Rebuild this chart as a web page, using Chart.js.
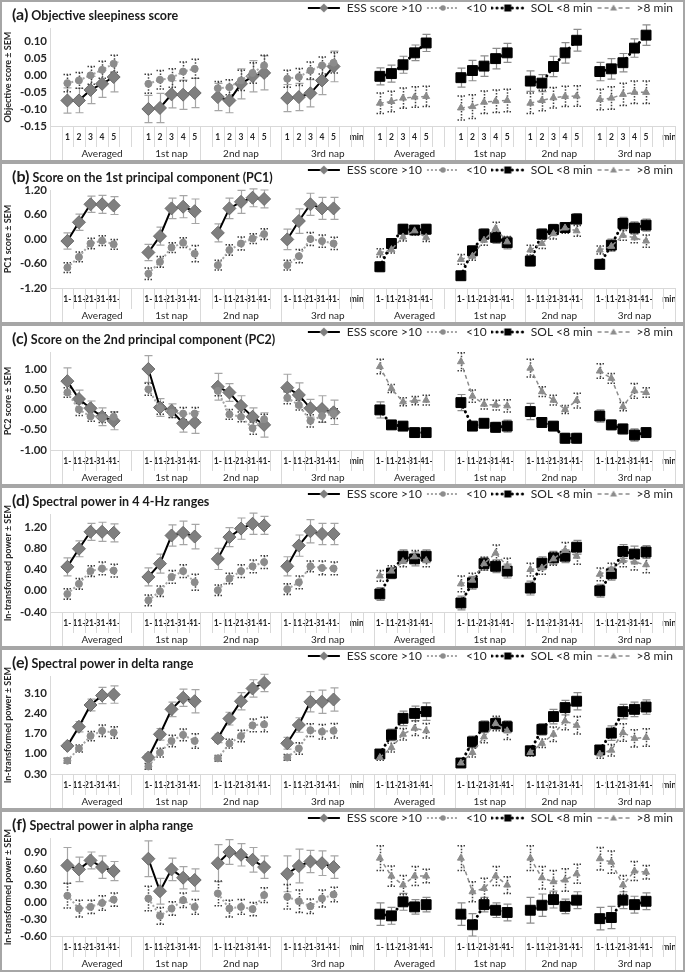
<!DOCTYPE html>
<html>
<head>
<meta charset="utf-8">
<script src="https://cdn.jsdelivr.net/npm/chart.js@4.4.1/dist/chart.umd.min.js"></script>
<style>
  html, body { margin: 0; padding: 0; background: #fff; }
  body { width: 685px; height: 972px; overflow: hidden; font-family: Lato, sans-serif; }
  .panel { position: relative; width: 681px; height: 158px; border: 2px solid #a6a6a6; }
  .panel canvas { position: absolute; left: 0; top: 0; }
  .ttl { position: absolute; left: 10px; top: 4px; font-weight: bold; font-size: 12.5px; line-height: 16px; color: #1a1a1a; white-space: nowrap; }
  .ttl .tag { font-size: 16px; }
</style>
</head>
<body>
<div id="wrap"></div>
<script>
// x axis: left half = ESS groups, right half = SOL groups (same layout)
const halfTicksNum = ['', '1', '2', '3', '4', '5', '', '', '1', '2', '3', '4', '5', '', '1', '2', '3', '4', '5', '', '1', '2', '3', '4', '5', '', 'min'];
const halfTicksMin = ['', '1-', '11-', '21-', '31-', '41-', '', '', '1-', '11-', '21-', '31-', '41-', '', '1-', '11-', '21-', '31-', '41-', '', '1-', '11-', '21-', '31-', '41-', '', 'min'];
const groupNames = ['Averaged', '1st nap', '2nd nap', '3rd nap', 'Averaged', '1st nap', '2nd nap', '3rd nap'];
const groupFirst = [1, 8, 13, 20, 28, 35, 41, 47];
const groupLast = [7, 12, 19, 27, 34, 40, 46, 53];
const seriesNames = ['ESS score >10', '<10', 'SOL <8 min', '>8 min'];

// (a) objective sleepiness score
const aTicks = [-0.15, -0.10, -0.05, 0, 0.05, 0.10];
const aEssHigh = [-0.075, -0.075, -0.044, -0.026, -0.006, -0.100, -0.097, -0.057, -0.058, -0.053, -0.065, -0.075, -0.026, -0.004, 0.006, -0.068, -0.065, -0.054, -0.016, 0.025];
const aEssLow = [-0.024, -0.016, -0.001, 0.015, 0.033, -0.026, -0.014, -0.009, 0.010, 0.018, -0.039, -0.036, -0.016, 0.006, 0.028, -0.011, -0.006, 0.013, 0.028, 0.036];
const aSolShort = [-0.004, 0.004, 0.030, 0.065, 0.094, -0.008, 0.013, 0.026, 0.048, 0.065, -0.018, -0.024, 0.025, 0.065, 0.102, 0.010, 0.018, 0.036, 0.079, 0.117];
const aSolLong = [-0.083, -0.078, -0.068, -0.065, -0.063, -0.097, -0.093, -0.080, -0.077, -0.075, -0.083, -0.075, -0.067, -0.063, -0.062, -0.072, -0.068, -0.057, -0.051, -0.051];
const aEssHighSem = [0.037, 0.036, 0.04, 0.04, 0.044, 0.04, 0.043, 0.04, 0.043, 0.043, 0.04, 0.036, 0.044, 0.046, 0.05, 0.04, 0.04, 0.04, 0.042, 0.045];
const aEssLowSem = [0.025, 0.023, 0.026, 0.025, 0.025, 0.028, 0.027, 0.027, 0.028, 0.028, 0.02, 0.022, 0.03, 0.03, 0.03, 0.025, 0.025, 0.025, 0.025, 0.03];
const aSolShortSem = [0.025, 0.025, 0.025, 0.023, 0.025, 0.028, 0.03, 0.03, 0.03, 0.028, 0.03, 0.025, 0.03, 0.03, 0.032, 0.027, 0.03, 0.027, 0.027, 0.03];
const aSolLongSem = [0.03, 0.03, 0.03, 0.03, 0.03, 0.035, 0.035, 0.033, 0.033, 0.033, 0.03, 0.03, 0.03, 0.03, 0.03, 0.03, 0.033, 0.033, 0.033, 0.033];

// (b) PC1
const bTicks = [-1.2, -0.6, 0, 0.6, 1.2];
const bEssHigh = [-0.05, 0.41, 0.85, 0.85, 0.82, -0.33, 0.07, 0.75, 0.79, 0.68, 0.15, 0.75, 0.91, 1.01, 0.98, -0.01, 0.44, 0.85, 0.75, 0.75];
const bEssLow = [-0.70, -0.44, -0.11, -0.04, -0.13, -0.85, -0.56, -0.21, -0.09, -0.36, -0.64, -0.27, -0.11, 0.01, 0.12, -0.64, -0.42, 0.00, -0.05, -0.11];
const bSolShort = [-0.68, -0.11, 0.24, 0.22, 0.24, -0.90, -0.29, 0.12, 0.04, -0.09, -0.54, 0.12, 0.23, 0.28, 0.49, -0.62, -0.15, 0.38, 0.27, 0.34];
const bSolLong = [-0.34, -0.26, 0.05, 0.20, 0.04, -0.50, -0.42, -0.03, 0.26, -0.07, -0.27, -0.11, 0.13, 0.27, 0.20, -0.27, -0.18, 0.09, 0.03, -0.05];
const bEssHighSem = [0.2, 0.2, 0.2, 0.22, 0.22, 0.2, 0.22, 0.25, 0.27, 0.3, 0.22, 0.25, 0.28, 0.22, 0.22, 0.25, 0.3, 0.27, 0.27, 0.27];
const bEssLowSem = [0.12, 0.12, 0.13, 0.12, 0.12, 0.14, 0.13, 0.12, 0.12, 0.2, 0.12, 0.13, 0.16, 0.12, 0.13, 0.12, 0.16, 0.16, 0.15, 0.15];
const bSolShortSem = [0.12, 0.1, 0.12, 0.1, 0.12, 0.1, 0.12, 0.13, 0.15, 0.15, 0.12, 0.13, 0.13, 0.12, 0.13, 0.12, 0.15, 0.15, 0.15, 0.15];
const bSolLongSem = [0.1, 0.08, 0.1, 0.1, 0.1, 0.12, 0.1, 0.12, 0.15, 0.13, 0.12, 0.12, 0.13, 0.13, 0.13, 0.1, 0.1, 0.12, 0.12, 0.15];

// (c) PC2
const cTicks = [-1, -0.5, 0, 0.5, 1];
const cEssHigh = [0.70, 0.26, 0.03, -0.18, -0.28, 1.00, 0.05, -0.03, -0.34, -0.32, 0.56, 0.42, 0.09, -0.18, -0.38, 0.54, 0.36, 0.03, 0.01, -0.07];
const cEssLow = [0.42, 0.00, -0.17, -0.20, -0.18, 0.50, 0.03, -0.08, -0.10, -0.10, 0.46, -0.12, -0.18, -0.46, -0.24, 0.29, 0.11, -0.28, -0.16, -0.10];
const cSolShort = [-0.01, -0.38, -0.41, -0.57, -0.57, 0.17, -0.41, -0.34, -0.44, -0.41, -0.05, -0.32, -0.41, -0.71, -0.71, -0.16, -0.38, -0.48, -0.63, -0.57];
const cSolLong = [1.06, 0.52, 0.19, 0.22, 0.23, 1.18, 0.33, 0.13, 0.11, 0.09, 1.02, 0.44, 0.23, 0.00, 0.22, 0.95, 0.77, 0.07, 0.46, 0.42];
const cEssHighSem = [0.33, 0.22, 0.18, 0.22, 0.22, 0.33, 0.22, 0.17, 0.22, 0.27, 0.33, 0.22, 0.25, 0.22, 0.3, 0.33, 0.3, 0.22, 0.33, 0.3];
const cEssLowSem = [0.12, 0.15, 0.12, 0.12, 0.12, 0.15, 0.15, 0.12, 0.15, 0.15, 0.12, 0.12, 0.12, 0.15, 0.12, 0.15, 0.12, 0.15, 0.15, 0.12];
const cSolShortSem = [0.2, 0.1, 0.1, 0.1, 0.1, 0.2, 0.1, 0.1, 0.12, 0.15, 0.2, 0.12, 0.1, 0.12, 0.12, 0.15, 0.12, 0.12, 0.15, 0.12];
const cSolLongSem = [0.18, 0.1, 0.1, 0.1, 0.12, 0.22, 0.15, 0.12, 0.12, 0.15, 0.22, 0.12, 0.12, 0.1, 0.18, 0.18, 0.12, 0.1, 0.18, 0.12];

// (d) 4 4-Hz ranges
const dTicks = [-0.4, 0, 0.4, 0.8, 1.2];
const dEssHigh = [0.45, 0.79, 1.11, 1.11, 1.09, 0.26, 0.51, 1.04, 1.09, 1.02, 0.60, 1.01, 1.17, 1.26, 1.23, 0.46, 0.85, 1.12, 1.07, 1.07];
const dEssLow = [-0.06, 0.13, 0.37, 0.42, 0.38, -0.18, -0.01, 0.26, 0.37, 0.16, 0.01, 0.23, 0.37, 0.46, 0.54, 0.03, 0.16, 0.46, 0.43, 0.42];
const dSolShort = [-0.06, 0.33, 0.65, 0.60, 0.65, -0.23, 0.15, 0.51, 0.46, 0.37, 0.05, 0.52, 0.62, 0.65, 0.82, 0.00, 0.32, 0.74, 0.69, 0.73];
const dSolLong = [0.28, 0.37, 0.55, 0.64, 0.57, 0.13, 0.20, 0.51, 0.71, 0.46, 0.40, 0.43, 0.60, 0.76, 0.65, 0.31, 0.40, 0.57, 0.54, 0.49];
const dEssHighSem = [0.17, 0.15, 0.16, 0.18, 0.17, 0.17, 0.18, 0.2, 0.22, 0.23, 0.2, 0.18, 0.2, 0.2, 0.17, 0.18, 0.2, 0.22, 0.2, 0.2];
const dEssLowSem = [0.1, 0.1, 0.1, 0.12, 0.12, 0.1, 0.1, 0.12, 0.12, 0.15, 0.1, 0.1, 0.12, 0.12, 0.12, 0.1, 0.12, 0.1, 0.13, 0.12];
const dSolShortSem = [0.12, 0.1, 0.12, 0.13, 0.12, 0.13, 0.12, 0.12, 0.12, 0.13, 0.13, 0.12, 0.12, 0.12, 0.13, 0.12, 0.12, 0.13, 0.15, 0.12];
const dSolLongSem = [0.1, 0.1, 0.1, 0.12, 0.12, 0.15, 0.13, 0.12, 0.15, 0.15, 0.12, 0.12, 0.12, 0.15, 0.15, 0.12, 0.12, 0.12, 0.15, 0.15];

// (e) delta range
const eTicks = [0.3, 1.0, 1.7, 2.4, 3.1];
const eEssHigh = [1.27, 1.93, 2.68, 3.01, 3.04, 0.87, 1.67, 2.53, 2.93, 2.81, 1.53, 2.21, 2.81, 3.25, 3.44, 1.36, 1.99, 2.79, 2.79, 2.87];
const eEssLow = [0.76, 1.18, 1.61, 1.79, 1.73, 0.56, 1.04, 1.44, 1.65, 1.44, 0.84, 1.35, 1.61, 1.98, 2.01, 0.87, 1.18, 1.81, 1.76, 1.79];
const eSolShort = [0.99, 1.65, 2.22, 2.39, 2.45, 0.68, 1.41, 1.93, 2.04, 1.93, 1.10, 1.84, 2.28, 2.59, 2.81, 1.13, 1.71, 2.45, 2.53, 2.61];
const eSolLong = [0.87, 1.21, 1.67, 1.88, 1.79, 0.68, 1.04, 1.58, 2.04, 1.79, 1.04, 1.36, 1.67, 2.13, 1.98, 0.99, 1.12, 1.73, 1.53, 1.56];
const eEssHighSem = [0.1, 0.18, 0.2, 0.28, 0.3, 0.12, 0.2, 0.25, 0.3, 0.4, 0.15, 0.22, 0.3, 0.3, 0.3, 0.2, 0.25, 0.35, 0.4, 0.4];
const eEssLowSem = [0.08, 0.12, 0.16, 0.2, 0.2, 0.1, 0.15, 0.2, 0.2, 0.25, 0.1, 0.15, 0.2, 0.22, 0.25, 0.1, 0.2, 0.22, 0.25, 0.25];
const eSolShortSem = [0.15, 0.2, 0.25, 0.25, 0.3, 0.1, 0.2, 0.2, 0.2, 0.2, 0.15, 0.2, 0.25, 0.25, 0.3, 0.15, 0.25, 0.25, 0.25, 0.25];
const eSolLongSem = [0.1, 0.15, 0.2, 0.25, 0.25, 0.1, 0.15, 0.2, 0.25, 0.3, 0.12, 0.15, 0.25, 0.3, 0.3, 0.15, 0.2, 0.3, 0.3, 0.3];

// (f) alpha range
const fTicks = [-0.6, -0.3, 0, 0.3, 0.6, 0.9];
const fEssHigh = [0.66, 0.59, 0.75, 0.63, 0.56, 0.78, 0.20, 0.59, 0.44, 0.40, 0.70, 0.90, 0.85, 0.76, 0.63, 0.51, 0.65, 0.73, 0.70, 0.63];
const fEssLow = [0.12, -0.11, -0.08, -0.01, 0.05, 0.07, -0.24, -0.11, 0.04, -0.08, 0.16, -0.11, -0.08, -0.12, 0.13, 0.10, 0.02, -0.07, 0.07, 0.14];
const fSolShort = [-0.21, -0.24, 0.01, -0.08, -0.04, -0.21, -0.40, -0.04, -0.14, -0.18, -0.14, -0.05, 0.05, -0.07, 0.04, -0.29, -0.27, 0.04, -0.04, 0.02];
const fSolLong = [0.79, 0.47, 0.31, 0.47, 0.47, 0.79, 0.19, 0.25, 0.47, 0.31, 0.79, 0.44, 0.37, 0.40, 0.51, 0.78, 0.72, 0.31, 0.56, 0.54];
const fEssHighSem = [0.32, 0.22, 0.15, 0.2, 0.17, 0.32, 0.23, 0.2, 0.2, 0.2, 0.33, 0.22, 0.2, 0.22, 0.2, 0.32, 0.3, 0.2, 0.22, 0.2];
const fEssLowSem = [0.22, 0.15, 0.12, 0.13, 0.12, 0.22, 0.15, 0.12, 0.13, 0.13, 0.22, 0.15, 0.13, 0.12, 0.13, 0.22, 0.2, 0.13, 0.15, 0.13];
const fSolShortSem = [0.2, 0.15, 0.15, 0.13, 0.13, 0.2, 0.2, 0.13, 0.13, 0.15, 0.23, 0.2, 0.15, 0.13, 0.15, 0.2, 0.2, 0.15, 0.15, 0.15];
const fSolLongSem = [0.22, 0.18, 0.17, 0.17, 0.12, 0.22, 0.18, 0.18, 0.17, 0.15, 0.22, 0.2, 0.2, 0.2, 0.17, 0.2, 0.2, 0.17, 0.17, 0.12];

const panels = [
  { id: 'a', title: 'Objective sleepiness score', yTitle: 'Objective score ± SEM', min: -0.15, max: 0.138, ticks: aTicks, xTicks: halfTicksNum,
    series: [aEssHigh, aEssLow, aSolShort, aSolLong], sems: [aEssHighSem, aEssLowSem, aSolShortSem, aSolLongSem] },
  { id: 'b', title: 'Score on the 1st principal component (PC1)', yTitle: 'PC1 score ± SEM', min: -1.2, max: 1.2, ticks: bTicks, xTicks: halfTicksMin,
    series: [bEssHigh, bEssLow, bSolShort, bSolLong], sems: [bEssHighSem, bEssLowSem, bSolShortSem, bSolLongSem] },
  { id: 'c', title: 'Score on the 2nd principal component (PC2)', yTitle: 'PC2 score ± SEM', min: -1, max: 1.42, ticks: cTicks, xTicks: halfTicksMin,
    series: [cEssHigh, cEssLow, cSolShort, cSolLong], sems: [cEssHighSem, cEssLowSem, cSolShortSem, cSolLongSem] },
  { id: 'd', title: 'Spectral power in 4 4-Hz ranges', yTitle: 'ln-transformed power ± SEM', min: -0.4, max: 1.445, ticks: dTicks, xTicks: halfTicksMin,
    series: [dEssHigh, dEssLow, dSolShort, dSolLong], sems: [dEssHighSem, dEssLowSem, dSolShortSem, dSolLongSem] },
  { id: 'e', title: 'Spectral power in delta range', yTitle: 'ln-transformed power ± SEM', min: 0.3, max: 3.68, ticks: eTicks, xTicks: halfTicksMin,
    series: [eEssHigh, eEssLow, eSolShort, eSolLong], sems: [eEssHighSem, eEssLowSem, eSolShortSem, eSolLongSem] },
  { id: 'f', title: 'Spectral power in alpha range', yTitle: 'ln-transformed power ± SEM', min: -0.6, max: 1.15, ticks: fTicks, xTicks: halfTicksMin,
    series: [fEssHigh, fEssLow, fSolShort, fSolLong], sems: [fEssHighSem, fEssLowSem, fSolShortSem, fSolLongSem] },
];

// line / marker / error bar look of the 4 series
const lineStyles = [
  { color: '#000000', width: 2, dash: [], cap: 'butt' },
  { color: '#a6a6a6', width: 2, dash: [2, 2], cap: 'butt' },
  { color: '#000000', width: 3, dash: [0.1, 5], cap: 'round' },
  { color: '#8c8c8c', width: 1.5, dash: [4, 3], cap: 'butt' },
];
const markerStyles = [
  { style: 'rectRot', radius: 6.5, fill: '#7f7f7f', edge: '#6a6a6a' },
  { style: 'circle', radius: 3.5, fill: '#8c8c8c', edge: '#8c8c8c' },
  { style: 'rect', radius: 7, fill: '#000000', edge: '#000000' },
  { style: 'triangle', radius: 4, fill: '#8c8c8c', edge: '#8c8c8c' },
];
const errStyles = [
  { color: '#a6a6a6', width: 1.2, dash: [] },
  { color: '#404040', width: 1.5, dash: [1.5, 1.5] },
  { color: '#8c8c8c', width: 1.2, dash: [] },
  { color: '#404040', width: 1.5, dash: [1.5, 1.5] },
];

// slots in a half of the axis that carry a point (labels 1..5 / 1-..41-)
const slots = [];
halfTicksNum.forEach((l, i) => { if (l && l !== 'min') slots.push(i); });
const HALF = halfTicksNum.length;

function spread(values, offset) {
  const out = new Array(HALF * 2).fill(null);
  slots.forEach((s, j) => { out[s + offset] = values[j]; });
  return out;
}

const ICON_W = 34;
function legendIcon(k) {
  const c = document.createElement('canvas');
  c.width = ICON_W; c.height = 12;
  const g = c.getContext('2d');
  const st = lineStyles[k], mid = ICON_W / 2;
  g.strokeStyle = st.color; g.lineWidth = st.width; g.lineCap = st.cap; g.setLineDash(st.dash);
  g.beginPath(); g.moveTo(1, 6); g.lineTo(ICON_W - 1, 6); g.stroke();
  g.setLineDash([]);
  g.fillStyle = markerStyles[k].fill;
  g.beginPath();
  const m = markerStyles[k].style;
  if (m === 'rectRot') { g.moveTo(mid, 1.5); g.lineTo(mid + 4.5, 6); g.lineTo(mid, 10.5); g.lineTo(mid - 4.5, 6); }
  else if (m === 'circle') { g.arc(mid, 6, 2.8, 0, 2 * Math.PI); }
  else if (m === 'rect') { g.rect(mid - 3.5, 2.5, 7, 7); }
  else { g.moveTo(mid, 2.5); g.lineTo(mid + 3.5, 8.5); g.lineTo(mid - 3.5, 8.5); }
  g.closePath(); g.fill();
  return c;
}
const legendIcons = [0, 1, 2, 3].map(legendIcon);

// error bars behind the markers
const errorBars = {
  id: 'errorBars',
  beforeDatasetsDraw(chart) {
    const ctx = chart.ctx, yScale = chart.scales.y;
    chart.data.datasets.forEach((ds, i) => {
      const meta = chart.getDatasetMeta(i), st = errStyles[i];
      ctx.save();
      ctx.strokeStyle = st.color; ctx.lineWidth = st.width; ctx.setLineDash(st.dash);
      ctx.beginPath();
      meta.data.forEach((pt, j) => {
        const v = ds.data[j];
        if (v === null) return;
        const x = Math.round(pt.x) + 0.5;
        const yTop = yScale.getPixelForValue(v + ds.sem[j]);
        const yBot = yScale.getPixelForValue(v - ds.sem[j]);
        ctx.moveTo(x, yTop); ctx.lineTo(x, yBot);
        ctx.moveTo(x - 4, yTop); ctx.lineTo(x + 4, yTop);
        ctx.moveTo(x - 4, yBot); ctx.lineTo(x + 4, yBot);
      });
      ctx.stroke();
      ctx.restore();
    });
  }
};

// multi-level category axis: cell lines and group names
const catAxis = {
  id: 'catAxis',
  afterDraw(chart) {
    const ctx = chart.ctx, xs = chart.scales.x, a = chart.chartArea, H = chart.height;
    const w = xs.getPixelForValue(1) - xs.getPixelForValue(0);
    const edge = k => Math.round(xs.getPixelForValue(k) - w / 2) + 0.5;
    ctx.save();
    ctx.strokeStyle = '#d9d9d9'; ctx.lineWidth = 1;
    ctx.beginPath();
    for (let k = 0; k <= HALF * 2; k++) {
      ctx.moveTo(edge(k), a.bottom); ctx.lineTo(edge(k), a.bottom + 21);
    }
    groupFirst.forEach((g, n) => {
      ctx.moveTo(edge(g), a.bottom); ctx.lineTo(edge(g), H);
      ctx.moveTo(edge(groupLast[n] + 1), a.bottom); ctx.lineTo(edge(groupLast[n] + 1), H);
    });
    ctx.moveTo(Math.round(a.left) + 0.5, a.bottom); ctx.lineTo(Math.round(a.left) + 0.5, H);
    ctx.stroke();
    ctx.fillStyle = '#262626';
    ctx.font = '10px Lato, sans-serif';
    ctx.textAlign = 'center'; ctx.textBaseline = 'middle';
    groupNames.forEach((name, n) => {
      const cx = (xs.getPixelForValue(groupFirst[n]) + xs.getPixelForValue(groupLast[n])) / 2;
      ctx.fillText(name, cx, a.bottom + 28);
    });
    ctx.restore();
  }
};

// pull the legend row up a little, like the original
const legendShift = {
  id: 'legendShift',
  afterLayout(chart) {
    if (chart.legend) { chart.legend.top -= 4; chart.legend.bottom -= 4; }
  }
};

Chart.defaults.font.family = 'Lato, sans-serif';
Chart.defaults.color = '#262626';

const wrap = document.getElementById('wrap');
panels.forEach(p => {
  const div = document.createElement('div');
  div.className = 'panel';
  const cv = document.createElement('canvas');
  cv.width = 681; cv.height = 158;
  div.appendChild(cv);
  const t = document.createElement('div');
  t.className = 'ttl';
  t.innerHTML = '<span class="tag">(' + p.id + ')</span> ' + p.title;
  div.appendChild(t);
  wrap.appendChild(div);

  new Chart(cv, {
    type: 'line',
    data: {
      labels: p.xTicks.concat(p.xTicks),
      datasets: p.series.map((vals, k) => ({
        label: seriesNames[k],
        data: spread(vals, k < 2 ? 0 : HALF),
        sem: spread(p.sems[k], k < 2 ? 0 : HALF),
        borderColor: lineStyles[k].color,
        borderWidth: lineStyles[k].width,
        borderDash: lineStyles[k].dash,
        borderCapStyle: lineStyles[k].cap,
        pointStyle: markerStyles[k].style,
        pointRadius: markerStyles[k].radius,
        pointBackgroundColor: markerStyles[k].fill,
        pointBorderColor: markerStyles[k].edge,
        pointBorderWidth: 1,
        spanGaps: false,
        fill: false,
        clip: false,
        order: -k
      }))
    },
    options: {
      responsive: false,
      animation: false,
      events: [],
      layout: { padding: { left: 0, right: 6, top: 0, bottom: 0 } },
      plugins: {
        tooltip: { enabled: false },
        legend: {
          position: 'top',
          align: 'end',
          labels: {
            usePointStyle: true,
            pointStyleWidth: ICON_W,
            boxHeight: 12,
            padding: 4,
            font: { size: 12 },
            color: '#262626',
            generateLabels: chart => chart.data.datasets.map((ds, i) => ({
              text: ds.label,
              pointStyle: legendIcons[i],
              fillStyle: 'transparent',
              strokeStyle: 'transparent',
              lineWidth: 0,
              hidden: false,
              datasetIndex: i,
              fontColor: '#262626'
            }))
          }
        }
      },
      scales: {
        x: {
          offset: true,
          afterFit: s => { s.height = 34; },
          grid: { display: false, drawTicks: false },
          border: { display: true, color: '#d9d9d9' },
          ticks: { autoSkip: false, maxRotation: 0, minRotation: 0, padding: 6, font: { size: 8.5, weight: 'bold' }, color: '#262626' }
        },
        y: {
          min: p.min,
          max: p.max,
          afterBuildTicks: s => { s.ticks = p.ticks.map(v => ({ value: v })); },
          afterFit: s => { s.width = 48; },
          grid: { display: false, drawTicks: false },
          border: { display: true, color: '#d9d9d9' },
          ticks: { padding: 3, font: { size: 11.5, weight: 'bold' }, color: '#262626', callback: v => Number(v).toFixed(2) },
          title: { display: true, text: p.yTitle, font: { size: 9, weight: 'bold' }, color: '#262626', padding: { top: 1, bottom: 1 } }
        }
      }
    },
    plugins: [errorBars, catAxis, legendShift]
  });
});
</script>
</body>
</html>
